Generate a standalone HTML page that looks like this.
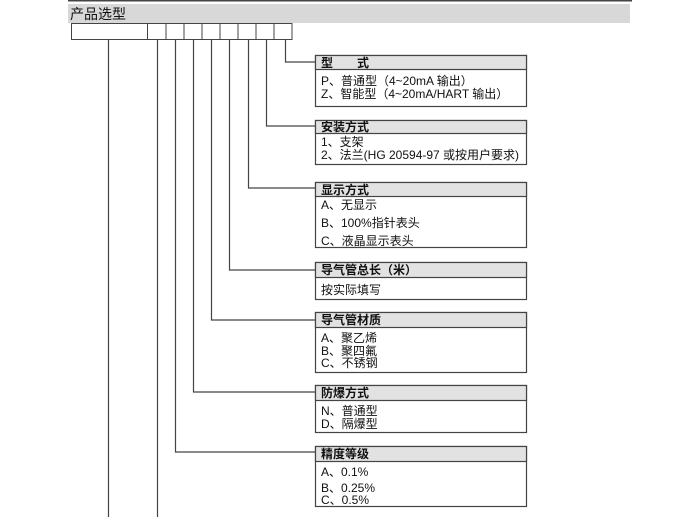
<!DOCTYPE html>
<html><head><meta charset="utf-8"><style>
html,body{margin:0;padding:0;background:#fff;}
svg{display:block;}
text{font-family:"Liberation Sans","Noto Sans CJK SC",sans-serif;font-size:12px;fill:#111;dominant-baseline:central;}
.h{font-weight:bold;}
</style></head><body>
<svg width="700" height="517" viewBox="0 0 700 517" xmlns="http://www.w3.org/2000/svg">
<rect x="68" y="0" width="564" height="1.5" fill="#444"/>
<rect x="68" y="4" width="562" height="19" fill="#d8d8d8"/>
<text x="70" y="14" style="font-size:14px">产品选型</text>
<g fill="#fff" stroke="#444" stroke-width="1">
<rect x="71.5" y="23.5" width="76" height="16"/>
<rect x="147.5" y="23.5" width="18.5" height="16"/>
<rect x="166" y="23.5" width="18" height="16"/>
<rect x="184" y="23.5" width="18" height="16"/>
<rect x="202" y="23.5" width="18" height="16"/>
<rect x="220" y="23.5" width="18" height="16"/>
<rect x="238" y="23.5" width="18" height="16"/>
<rect x="256" y="23.5" width="18" height="16"/>
<rect x="274" y="23.5" width="18" height="16"/>
</g>
<g fill="none" stroke="#444" stroke-width="1.2">
<path d="M108.5 40V517"/>
<path d="M157.5 40V517"/>
<path d="M175.5 40V452H316"/>
<path d="M193.5 40V392H316"/>
<path d="M211.5 40V320H316"/>
<path d="M229.5 40V270H316"/>
<path d="M248.5 40V188H316"/>
<path d="M266.5 40V126H316"/>
<path d="M285.5 40V62H316"/>
</g>
<g stroke="#444" stroke-width="1.2">
<rect x="315.5" y="55.5" width="211" height="51" fill="#fff"/>
<rect x="315.5" y="55.5" width="211" height="14" fill="#e2e2e2"/>
<rect x="315.5" y="120.5" width="211" height="44" fill="#fff"/>
<rect x="315.5" y="120.5" width="211" height="13" fill="#e2e2e2"/>
<rect x="315.5" y="182.5" width="211" height="65" fill="#fff"/>
<rect x="315.5" y="182.5" width="211" height="14" fill="#e2e2e2"/>
<rect x="315.5" y="262.5" width="211" height="37" fill="#fff"/>
<rect x="315.5" y="262.5" width="211" height="15" fill="#e2e2e2"/>
<rect x="315.5" y="312.5" width="211" height="60" fill="#fff"/>
<rect x="315.5" y="312.5" width="211" height="15" fill="#e2e2e2"/>
<rect x="315.5" y="385.5" width="211" height="47" fill="#fff"/>
<rect x="315.5" y="385.5" width="211" height="15" fill="#e2e2e2"/>
<rect x="315.5" y="446.5" width="211" height="60" fill="#fff"/>
<rect x="315.5" y="446.5" width="211" height="15" fill="#e2e2e2"/>
</g>
<text class="h" x="321" y="63">型　　式</text>
<text x="321" y="81">P、普通型（4~20mA 输出）</text>
<text x="321" y="94">Z、智能型（4~20mA/HART 输出）</text>
<text class="h" x="321" y="127">安装方式</text>
<text x="321" y="142">1、支架</text>
<text x="321" y="155">2、法兰(HG 20594-97 或按用户要求)</text>
<text class="h" x="321" y="190">显示方式</text>
<text x="321" y="205">A、无显示</text>
<text x="321" y="223">B、100%指针表头</text>
<text x="321" y="241">C、液晶显示表头</text>
<text class="h" x="321" y="270">导气管总长（米）</text>
<text x="321" y="290">按实际填写</text>
<text class="h" x="321" y="320">导气管材质</text>
<text x="321" y="338">A、聚乙烯</text>
<text x="321" y="351">B、聚四氟</text>
<text x="321" y="363">C、不锈钢</text>
<text class="h" x="321" y="393">防爆方式</text>
<text x="321" y="411">N、普通型</text>
<text x="321" y="424">D、隔爆型</text>
<text class="h" x="321" y="454">精度等级</text>
<text x="321" y="472">A、0.1%</text>
<text x="321" y="488">B、0.25%</text>
<text x="321" y="500">C、0.5%</text>
</svg>
</body></html>
